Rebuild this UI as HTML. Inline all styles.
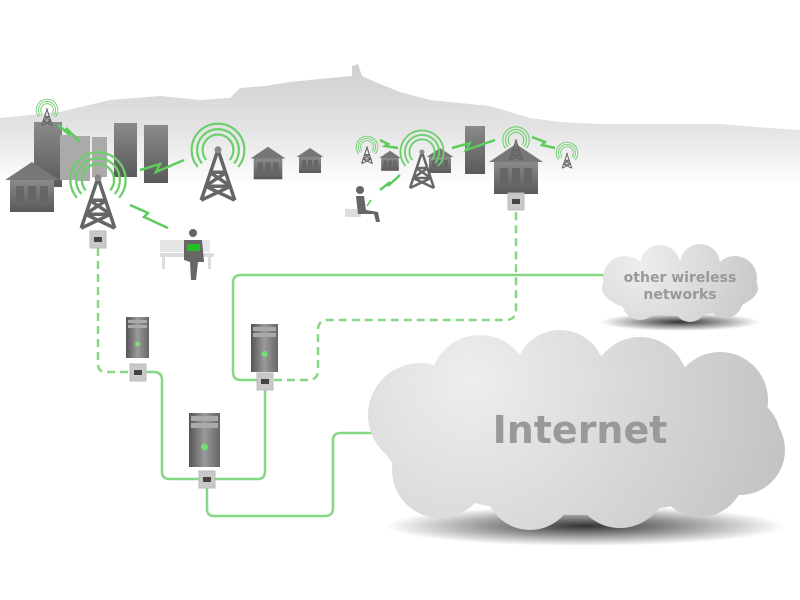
<!DOCTYPE html>
<html><head><meta charset="utf-8"><style>html,body{margin:0;padding:0;background:#fff}svg{display:block}</style></head>
<body>
<svg width="800" height="600" viewBox="0 0 800 600" xmlns="http://www.w3.org/2000/svg" font-family="'DejaVu Sans','Liberation Sans',sans-serif">
<defs>
<linearGradient id="hill" x1="0" y1="0" x2="0" y2="1"><stop offset="0" stop-color="#cfcfcf"/><stop offset="0.55" stop-color="#e4e4e4"/><stop offset="1" stop-color="#fff"/></linearGradient>
<linearGradient id="bld" x1="0" y1="0" x2="0" y2="1"><stop offset="0" stop-color="#8a8a8a"/><stop offset="1" stop-color="#5a5a5a"/></linearGradient>
<linearGradient id="srv" x1="0" y1="0" x2="1" y2="0"><stop offset="0" stop-color="#555"/><stop offset="0.5" stop-color="#9a9a9a"/><stop offset="1" stop-color="#666"/></linearGradient>
<radialGradient id="cl" gradientUnits="userSpaceOnUse" cx="470" cy="380" r="330"><stop offset="0" stop-color="#eeeeee"/><stop offset="1" stop-color="#c2c2c2"/></radialGradient>
<radialGradient id="cl2" gradientUnits="userSpaceOnUse" cx="640" cy="265" r="130"><stop offset="0" stop-color="#eeeeee"/><stop offset="1" stop-color="#c6c6c6"/></radialGradient>
<radialGradient id="sh" cx="0.5" cy="0.5" r="0.5"><stop offset="0" stop-color="#333"/><stop offset="1" stop-color="#333" stop-opacity="0"/></radialGradient>
<g id="tower"><path d="M0,-28 L-12,8 M0,-28 L12,8 M-9,-2 L9,-2 M-6,-12 L6,-12 M-9,-2 L6,-12 M9,-2 L-6,-12 M-12,8 L9,-2 M12,8 L-9,-2" stroke="#666" stroke-width="2.5" fill="none"/><circle cx="0" cy="-28" r="2.5" fill="#888"/></g>
<g id="waves" fill="none" stroke="#6ccf6c" stroke-width="2"><path d="M-10.7,9 A14,14 0 1 1 10.7,9"/><path d="M-14.6,12.2 A19,19 0 1 1 14.6,12.2"/><path d="M-18.4,15.4 A24,24 0 1 1 18.4,15.4"/></g>
<g id="house"><path d="M-27,-10 L0,-28 L27,-10 Z" fill="#777"/><rect x="-22" y="-10" width="44" height="32" fill="url(#bld)"/><rect x="-16" y="-4" width="8" height="16" fill="#666"/><rect x="-4" y="-4" width="8" height="16" fill="#666"/><rect x="8" y="-4" width="8" height="16" fill="#666"/></g>
<g id="box"><rect x="-8" y="-8" width="16" height="17" fill="#c8c8c8" stroke="#bbb"/><rect x="-4" y="-2" width="8" height="5" fill="#444"/></g>
</defs>

<!-- hills -->
<path d="M0,118 L60,112 L110,100 L160,96 L200,100 L230,98 L240,88 L265,86 L290,82 L330,78 L352,76 L352,66 L358,64 L362,76 L375,82 L400,92 L430,100 L490,106 L530,118 L560,122 L600,124 L660,124 L720,124 L770,128 L800,130 L800,185 L0,185 Z" fill="url(#hill)"/>

<!-- buildings -->
<rect x="34" y="122" width="28" height="65" fill="url(#bld)"/>
<rect x="60" y="135" width="16" height="45" fill="#aaa"/>
<rect x="75" y="136" width="15" height="45" fill="#aaa"/>
<rect x="92" y="137" width="15" height="40" fill="#aaa"/>
<rect x="114" y="123" width="23" height="54" fill="url(#bld)"/>
<rect x="144" y="125" width="24" height="58" fill="url(#bld)"/>
<rect x="465" y="126" width="20" height="48" fill="url(#bld)"/>
<use href="#house" x="32" y="190"/>
<use href="#house" transform="translate(268,165) scale(0.65)"/>
<use href="#house" transform="translate(310,162) scale(0.5)"/>
<use href="#house" transform="translate(390,162) scale(0.4)"/>
<use href="#house" transform="translate(440,162) scale(0.5)"/>
<use href="#house" transform="translate(516,172) scale(1)"/>

<!-- towers -->
<use href="#waves" transform="translate(98,180) scale(1.15)"/><use href="#tower" transform="translate(98,217) scale(1.4)"/>
<use href="#waves" transform="translate(218,150) scale(1.1)"/><use href="#tower" transform="translate(218,189) scale(1.4)"/>
<use href="#waves" transform="translate(422,152) scale(0.9)"/><use href="#tower" transform="translate(422,180) scale(1)"/>
<use href="#waves" transform="translate(47,110) scale(0.45)"/><use href="#tower" transform="translate(47,122) scale(0.45)"/>
<use href="#waves" transform="translate(367,147) scale(0.45)"/><use href="#tower" transform="translate(367,160) scale(0.45)"/>
<use href="#waves" transform="translate(516,140) scale(0.55)"/><use href="#tower" transform="translate(516,156) scale(0.55)"/>
<use href="#waves" transform="translate(567,153) scale(0.45)"/><use href="#tower" transform="translate(567,165) scale(0.4)"/>

<!-- lightning -->
<g stroke="#5ccc5c" stroke-width="2.5" fill="none">
<path d="M58,125 L70,135 L66,128 L80,142"/>
<path d="M140,170 L160,164 L156,172 L184,160"/>
<path d="M130,205 L148,213 L144,217 L168,228"/>
<path d="M380,140 L388,144 L385,146 L398,148"/>
<path d="M380,190 L390,182 L388,186 L400,175"/>
<path d="M452,148 L470,143 L466,150 L495,140"/>
<path d="M532,137 L545,142 L542,145 L555,148"/>
</g>

<!-- people -->
<rect x="160" y="240" width="50" height="12" fill="#e6e6e6"/><rect x="160" y="253" width="54" height="4" fill="#ddd"/>
<rect x="162" y="255" width="3" height="14" fill="#ddd"/><rect x="208" y="255" width="3" height="14" fill="#ddd"/>
<circle cx="193" cy="233" r="4" fill="#666"/><path d="M184,240 L202,240 L204,262 L198,262 L196,280 L191,280 L190,262 L184,260 Z" fill="#666"/>
<rect x="187" y="244" width="13" height="7" fill="#22c022"/>
<rect x="345" y="209" width="16" height="8" fill="#ddd"/>
<circle cx="360" cy="190" r="4" fill="#666"/><path d="M356,196 L364,196 L366,210 L378,212 L380,222 L376,222 L374,214 L358,214 Z" fill="#666"/>
<path d="M367,206 L371,200" stroke="#4c4" stroke-width="1.5"/>

<!-- connector lines -->
<g fill="none" stroke="#86d886" stroke-width="2.5">
<path d="M98,248 L98,364 Q98,372 106,372 L130,372" stroke-dasharray="8,5"/>
<path d="M146,372 L154,372 Q162,372 162,380 L162,472 Q162,479 170,479 L199,479"/>
<path d="M215,479 L258,479 Q265,479 265,471 L265,390"/>
<path d="M207,487 L207,509 Q207,516 214,516 L325,516 Q333,516 333,508 L333,440 Q333,433 341,433 L372,433"/>
<path d="M257,380 L241,380 Q233,380 233,372 L233,283 Q233,275 241,275 L605,275"/>
<path d="M274,380 L308,380 Q318,380 318,370 L318,330 Q318,320 328,320 L505,320 Q516,320 516,310 L516,209" stroke-dasharray="8,5"/>
</g>

<!-- boxes -->
<use href="#box" x="98" y="239"/>
<use href="#box" x="516" y="201"/>
<use href="#box" x="138" y="372"/>
<use href="#box" x="265" y="381"/>
<use href="#box" x="207" y="479"/>

<!-- servers -->
<g>
<rect x="126" y="317" width="23" height="41" fill="url(#srv)"/><rect x="128" y="320" width="19" height="3" fill="#aaa"/><rect x="128" y="325" width="19" height="3" fill="#aaa"/><circle cx="137.5" cy="344" r="2.5" fill="#7d7"/>
<rect x="251" y="324" width="27" height="48" fill="url(#srv)"/><rect x="253" y="327" width="23" height="4" fill="#aaa"/><rect x="253" y="333" width="23" height="4" fill="#aaa"/><circle cx="264.5" cy="354" r="3" fill="#7d7"/>
<rect x="189" y="413" width="31" height="54" fill="url(#srv)"/><rect x="191" y="416" width="27" height="5" fill="#aaa"/><rect x="191" y="423" width="27" height="5" fill="#aaa"/><circle cx="204.5" cy="447" r="3.5" fill="#7d7"/>
</g>

<!-- other wireless cloud -->
<ellipse cx="680" cy="322" rx="80" ry="9" fill="url(#sh)"/>
<g fill="url(#cl2)">
<ellipse cx="680" cy="288" rx="78" ry="28"/>
<circle cx="625" cy="278" r="22"/><circle cx="660" cy="265" r="20"/><circle cx="700" cy="264" r="20"/><circle cx="735" cy="278" r="22"/>
<circle cx="640" cy="302" r="18"/><circle cx="690" cy="306" r="16"/><circle cx="725" cy="300" r="18"/>
</g>
<text x="680" y="282" font-size="14" font-weight="bold" fill="#999" text-anchor="middle">other wireless</text>
<text x="680" y="299" font-size="14" font-weight="bold" fill="#999" text-anchor="middle">networks</text>

<!-- Internet cloud -->
<ellipse cx="585" cy="526" rx="200" ry="20" fill="url(#sh)"/>
<g fill="url(#cl)">
<ellipse cx="580" cy="435" rx="200" ry="80"/>
<circle cx="420" cy="415" r="52"/><circle cx="480" cy="385" r="50"/><circle cx="560" cy="375" r="45"/><circle cx="640" cy="385" r="48"/><circle cx="720" cy="400" r="48"/><circle cx="740" cy="450" r="45"/>
<circle cx="440" cy="470" r="48"/><circle cx="530" cy="485" r="45"/><circle cx="620" cy="480" r="48"/><circle cx="700" cy="472" r="45"/>
</g>
<text x="580" y="443" font-size="38" font-weight="bold" fill="#999" text-anchor="middle">Internet</text>
</svg>
</body></html>
